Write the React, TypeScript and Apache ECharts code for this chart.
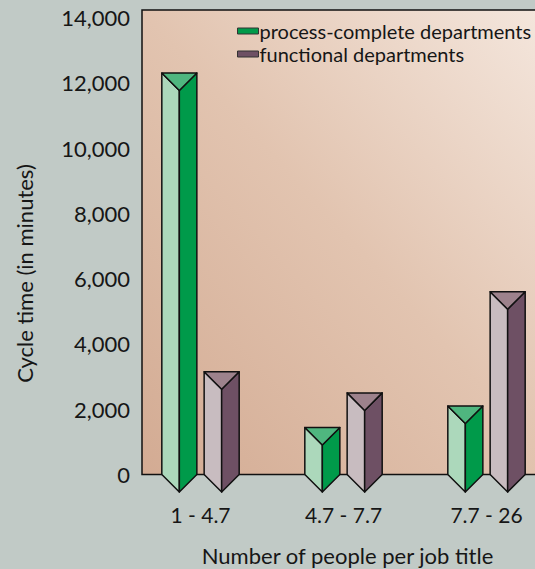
import React, { useEffect, useRef } from "react";
import * as echarts from "echarts";

const categories = ["1 - 4.7", "4.7 - 7.7", "7.7 - 26"];
const processComplete = [12300, 1440, 2100];
const functional = [3150, 2500, 5600];
const seriesNames = ["process-complete departments", "functional departments"];
const yMax = 14000;
const yStep = 2000;

const FONT = "Lato, 'Liberation Sans', sans-serif";
const TEXT = "#161616";

const greenFaces = { light: "#acd8bb", dark: "#009a4a", top: "#4fb67f" };
const mauveFaces = { light: "#c8bcc0", dark: "#6e5064", top: "#9d828c" };

function makeRender(side: number, faces: { light: string; dark: string; top: string }) {
  return (params: any, api: any) => {
    const idx = api.value(0);
    const v = api.value(1);
    const topPt = api.coord([idx, v]);
    const basePt = api.coord([idx, 0]);
    const bw = api.size([1, 0])[0];
    const cx = topPt[0] + side * bw * 0.148;
    const h = bw * 0.1225;
    const t = topPt[1];
    const b = basePt[1];
    const stroke = { stroke: "#111", lineWidth: 1.5, lineJoin: "round" };
    return {
      type: "group",
      children: [
        {
          type: "polygon",
          shape: { points: [[cx - h, t], [cx, t + h], [cx, b + h], [cx - h, b]] },
          style: { fill: faces.light, ...stroke },
        },
        {
          type: "polygon",
          shape: { points: [[cx, t + h], [cx + h, t], [cx + h, b], [cx, b + h]] },
          style: { fill: faces.dark, ...stroke },
        },
        {
          type: "polygon",
          shape: { points: [[cx - h, t], [cx + h, t], [cx, t + h]] },
          style: { fill: faces.top, ...stroke },
        },
      ],
    };
  };
}

export default function App() {
  const ref = useRef<HTMLDivElement>(null);
  useEffect(() => {
    if (!ref.current) return;
    const chart = echarts.init(ref.current, undefined, { renderer: "svg" });
    chart.setOption({
      animation: false,
      backgroundColor: "#c1cac6",
      textStyle: { fontFamily: FONT },
      graphic: [
        {
          type: "rect",
          z: 0,
          shape: { x: 142, y: 10, width: 420, height: 464.5 },
          style: {
            fill: new echarts.graphic.LinearGradient(0, 1, 1, 0, [
              { offset: 0, color: "#d3ab93" },
              { offset: 0.5, color: "#e2c4b0" },
              { offset: 1, color: "#f5e8df" },
            ]),
            stroke: "#111",
            lineWidth: 1.5,
          },
        },
      ],
      legend: {
        orient: "vertical",
        left: 237,
        top: 21,
        padding: 0,
        itemWidth: 21,
        itemHeight: 6,
        itemGap: 3,
        icon: "rect",
        textStyle: { fontFamily: FONT, fontSize: 20, lineHeight: 20, color: TEXT, padding: [0, 0, 0, -4] },
        data: [
          { name: seriesNames[0], itemStyle: { color: "#009a4a", borderColor: "#333", borderWidth: 1 } },
          { name: seriesNames[1], itemStyle: { color: "#6e5064", borderColor: "#333", borderWidth: 1 } },
        ],
      },
      grid: { left: 129, top: 17.5, width: 429, height: 457, outerBoundsMode: "none", containLabel: false },
      xAxis: {
        type: "category",
        data: categories,
        axisLine: { show: false },
        axisTick: { show: false },
        axisLabel: { fontFamily: FONT, fontSize: 21, color: TEXT, margin: 29 },
        name: "Number of people per job title",
        nameLocation: "middle",
        nameGap: 70,
        nameTextStyle: { fontFamily: FONT, fontSize: 22, color: TEXT, verticalAlign: "top", padding: [0, 0, 0, 8] },
      },
      yAxis: {
        type: "value",
        min: 0,
        max: yMax,
        interval: yStep,
        axisLine: { show: false },
        axisTick: { show: false },
        splitLine: { show: false },
        axisLabel: {
          fontFamily: FONT,
          fontSize: 22,
          color: TEXT,
          margin: -1,
          formatter: (v: number) => v.toLocaleString("en-US"),
        },
        name: "Cycle time (in minutes)",
        nameLocation: "middle",
        nameRotate: 90,
        nameGap: 94,
        nameTextStyle: { fontFamily: FONT, fontSize: 22, color: TEXT, padding: [0, 55, 0, 0] },
      },
      series: [
        {
          name: seriesNames[0],
          type: "custom",
          z: 2,
          clip: false,
          itemStyle: { color: "#009a4a" },
          renderItem: makeRender(-1, greenFaces),
          data: processComplete.map((v, i) => [i, v]),
        },
        {
          name: seriesNames[1],
          type: "custom",
          z: 2,
          clip: false,
          itemStyle: { color: "#6e5064" },
          renderItem: makeRender(1, mauveFaces),
          data: functional.map((v, i) => [i, v]),
        },
      ],
    });
    return () => chart.dispose();
  }, []);
  return <div ref={ref} style={{ width: 535, height: 569, position: "fixed", left: 0, top: 0 }} />;
}
